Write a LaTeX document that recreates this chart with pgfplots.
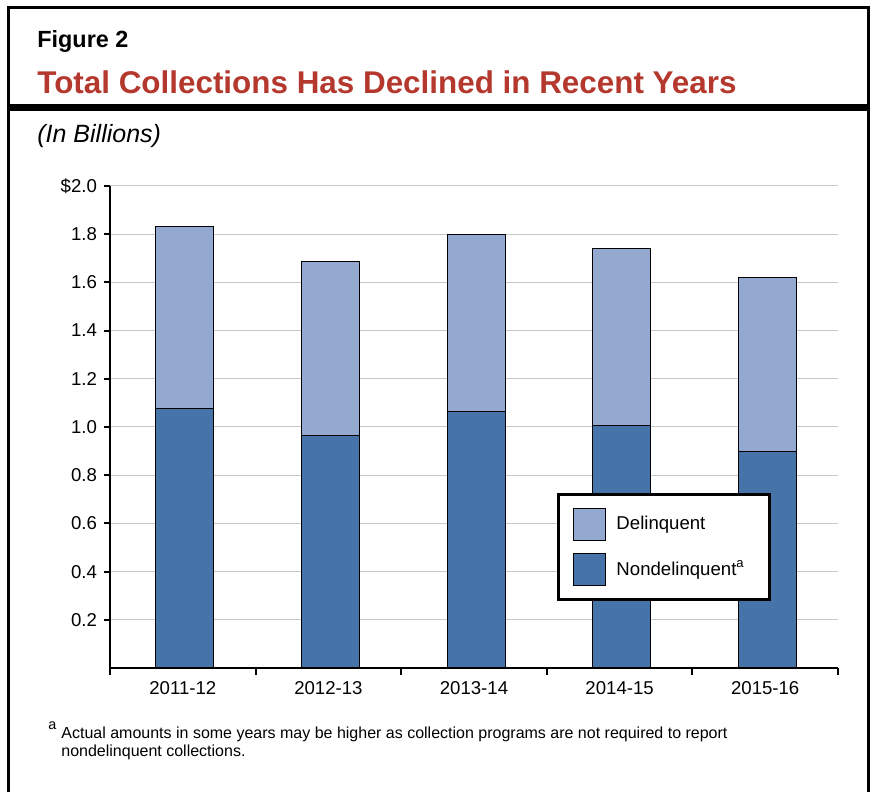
\documentclass[border=0pt]{standalone}
\usepackage{pgfplots}
\pgfplotsset{compat=1.18}
\usepackage{fontspec}
\setmainfont{Liberation Sans}
\definecolor{darkblue}{RGB}{70,116,168}
\definecolor{lightblue}{RGB}{148,169,208}
\definecolor{titlered}{RGB}{180,56,45}
\definecolor{gridgray}{RGB}{200,200,200}
\begin{document}
\begin{tikzpicture}
\useasboundingbox (0,0) rectangle (436pt,396pt);
\draw[line width=1.5pt] (4.25pt,0) -- (4.25pt,392pt) -- (434pt,392pt) -- (434pt,0);
\draw[line width=3.5pt] (4.25pt,342.25pt) -- (434pt,342.25pt);
\node[anchor=base west, inner sep=0] at (18.5pt,372pt) {\fontsize{11.7}{14}\selectfont\bfseries Figure 2};
\node[anchor=base west, inner sep=0, text=titlered] at (18.5pt,349pt) {\fontsize{15.7}{18}\selectfont\bfseries Total Collections Has Declined in Recent Years};
\node[anchor=base west, inner sep=0] at (18.5pt,324.5pt) {\fontsize{12.5}{15}\selectfont\itshape (In Billions)};
\node[anchor=base west, inner sep=0] at (24pt,31pt) {\fontsize{7.2}{8}\selectfont a};
\node[anchor=base west, inner sep=0] at (30.5pt,27pt) {\fontsize{8}{9}\selectfont Actual amounts in some years may be higher as collection programs are not required to report};
\node[anchor=base west, inner sep=0] at (30.5pt,18pt) {\fontsize{8}{9}\selectfont nondelinquent collections.};
\begin{axis}[
  at={(55pt,62pt)}, anchor=south west,
  scale only axis, width=364pt, height=241pt,
  xmin=-0.5, xmax=4.5, ymin=0, ymax=2.0,
  ybar stacked, bar width=29pt,
  axis x line*=bottom, axis y line*=left,
  x axis line style={line width=1pt, -},
  y axis line style={line width=1pt, -},
  xtick={0,1,2,3,4},
  xticklabels={2011-12,2012-13,2013-14,2014-15,2015-16},
  major x tick style={draw=none},
  minor xtick={-0.5,0.5,1.5,2.5,3.5,4.5},
  ytick={0.2,0.4,0.6,0.8,1.0,1.2,1.4,1.6,1.8,2.0},
  yticklabels={0.2,0.4,0.6,0.8,1.0,1.2,1.4,1.6,1.8,\$2.0},
  ymajorgrids, grid style={gridgray, line width=0.5pt},
  tick align=outside, major tick length=3pt, minor tick length=3.5pt,
  tick style={black, line width=1pt},
  ticklabel style={font=\fontsize{9.3}{11}\selectfont},
  /pgf/number format/assume math mode=true,
  reverse legend,
  legend image code/.code={\draw[#1, line width=0.5pt] (0pt,-8pt) rectangle (16pt,8pt);},
  legend style={at={(0.614,0.363)}, anchor=north west, draw=black, line width=1.5pt,
    font=\fontsize{9.3}{11}\selectfont, inner xsep=7.5pt, inner ysep=6.5pt, row sep=6.25pt,
    nodes={inner xsep=5pt, inner ysep=1pt}, cells={anchor=west}},
]
\addplot[fill=darkblue, draw=black, line width=0.5pt, bar shift=1pt] coordinates {(0,1.075) (1,0.963) (2,1.066) (3,1.008) (4,0.900)};
\addplot[fill=lightblue, draw=black, line width=0.5pt, bar shift=1pt] coordinates {(0,0.755) (1,0.722) (2,0.731) (3,0.731) (4,0.722)};
\legend{Nondelinquent\textsuperscript{a}, Delinquent}
\end{axis}
\end{tikzpicture}
\end{document}
